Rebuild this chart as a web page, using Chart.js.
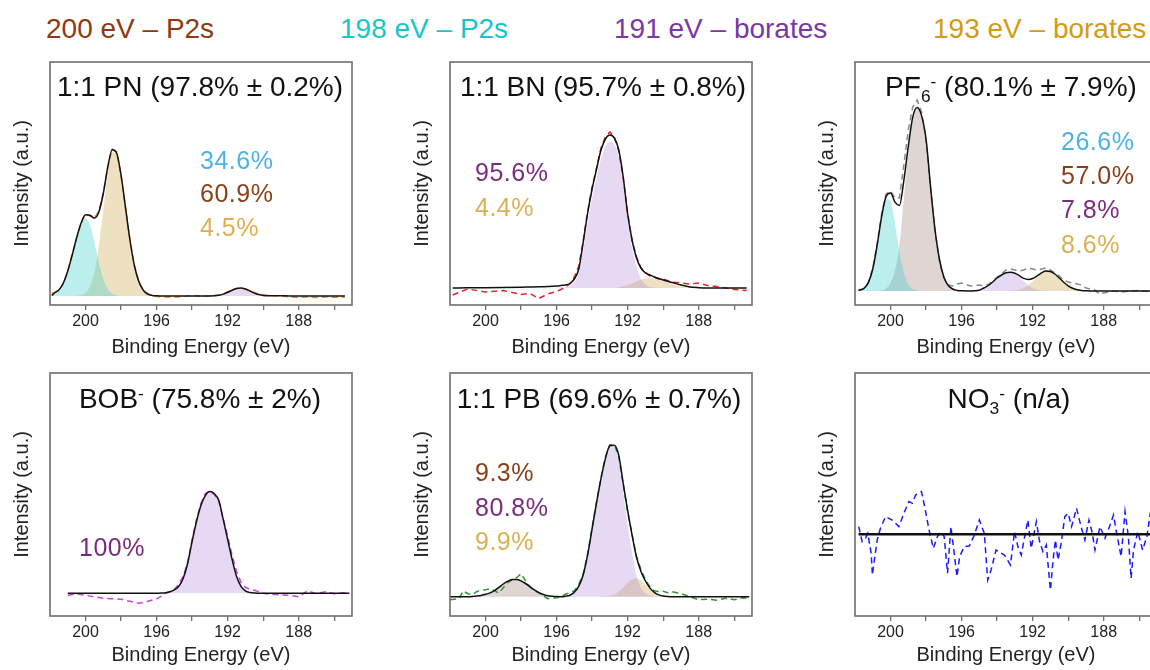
<!DOCTYPE html>
<html>
<head>
<meta charset="utf-8">
<script src="https://cdn.jsdelivr.net/npm/chart.js@4.4.1/dist/chart.umd.min.js"></script>
<style>
  html, body { margin: 0; padding: 0; background: #fff; }
  body { width: 1150px; height: 670px; overflow: hidden; position: relative; font-family: "Liberation Sans", Arial, sans-serif; }
  canvas { position: absolute; }
  .hdr { position: absolute; top: 15px; font-size: 28px; line-height: 28px; white-space: nowrap; z-index: 2; }
  .ttl { position: absolute; width: 400px; text-align: center; font-size: 28px; line-height: 28px; color: #111; white-space: nowrap; z-index: 2; }
  .pct { position: absolute; font-size: 25px; line-height: 25px; letter-spacing: 0.5px; white-space: nowrap; z-index: 2; }
  .sub { font-size: 0.62em; position: relative; top: 0.32em; }
  .sup { font-size: 0.62em; position: relative; top: -0.5em; }
</style>
</head>
<body>

<div class="hdr" style="left:46px;color:#8b3a12">200 eV – P2s</div>
<div class="hdr" style="left:340px;color:#17c6c9">198 eV – P2s</div>
<div class="hdr" style="left:614px;color:#7a37a6">191 eV – borates</div>
<div class="hdr" style="left:933px;color:#d39b14">193 eV – borates</div>

<div class="ttl" style="left:0px;top:73px">1:1 PN (97.8% ± 0.2%)</div>
<div class="ttl" style="left:403px;top:73px">1:1 BN (95.7% ± 0.8%)</div>
<div class="ttl" style="left:811px;top:73px">PF<span class="sub">6</span><span class="sup">-</span> (80.1% ± 7.9%)</div>
<div class="ttl" style="left:0px;top:385px">BOB<span class="sup">-</span> (75.8% ± 2%)</div>
<div class="ttl" style="left:399px;top:385px">1:1 PB (69.6% ± 0.7%)</div>
<div class="ttl" style="left:809px;top:385px">NO<span class="sub">3</span><span class="sup">-</span> (n/a)</div>

<div class="pct" style="left:200px;top:148px;color:#4db3e6">34.6%</div>
<div class="pct" style="left:200px;top:181px;color:#8b3f16">60.9%</div>
<div class="pct" style="left:200px;top:215px;color:#dcb050">4.5%</div>

<div class="pct" style="left:475px;top:160px;color:#7b2b7f">95.6%</div>
<div class="pct" style="left:475px;top:195px;color:#dcb050">4.4%</div>

<div class="pct" style="left:1061px;top:129px;color:#4db3e6">26.6%</div>
<div class="pct" style="left:1061px;top:163px;color:#8b3f16">57.0%</div>
<div class="pct" style="left:1061px;top:197px;color:#7b2b7f">7.8%</div>
<div class="pct" style="left:1061px;top:232px;color:#dcb050">8.6%</div>

<div class="pct" style="left:79px;top:535px;color:#7b2b7f">100%</div>

<div class="pct" style="left:475px;top:460px;color:#8b3f16">9.3%</div>
<div class="pct" style="left:475px;top:495px;color:#7b2b7f">80.8%</div>
<div class="pct" style="left:475px;top:529px;color:#dcb050">9.9%</div>

<script>
// binding energy grids (eV) and intensities (a.u.)

// 1:1 PN
const pnEnergy = [201.9, 201.75, 201.5, 201.25, 201, 200.75, 200.5, 200.25, 200, 199.75,
  199.5, 199.25, 199, 198.75, 198.5, 198.25, 198, 197.75, 197.5, 197.25,
  197, 196.75, 196.5, 196.25, 196, 195.5, 195, 194.5, 194, 193.5,
  193, 192.5, 192.25, 192, 191.75, 191.5, 191.25, 191, 190.75, 190.5,
  190.25, 190, 189.5, 189, 188.5, 188, 187.5, 187, 186.5, 186,
  185.4];
const pnCyan = [0.5, 3, 6, 13, 25, 41, 58, 72, 78, 71,
  54, 34, 17, 7, 2.5, 0.8, 0.2, 0, 0, 0,
  0, 0, 0, 0, 0, 0, 0, 0, 0, 0,
  0, 0, 0, 0, 0, 0, 0, 0, 0, 0,
  0, 0, 0, 0, 0, 0, 0, 0, 0, 0,
  0];
const pnTan = [0, 0, 0, 0, 0, 0, 0.2, 0.9, 3.3, 9.7,
  24, 50, 85.5, 121.7, 143.8, 142.2, 120.8, 88.6, 56, 30.5,
  14.4, 5.8, 2, 0.6, 0.15, 0, 0, 0, 0, 0,
  0, 0, 0, 0, 0, 0, 0, 0, 0, 0,
  0, 0, 0, 0, 0, 0, 0, 0, 0, 0,
  0];
const pnPurple = [0, 0, 0, 0, 0, 0, 0, 0, 0, 0,
  0, 0, 0, 0, 0, 0, 0, 0, 0, 0,
  0, 0, 0, 0, 0, 0, 0, 0, 0, 0,
  0, 0.7, 1.8, 3.6, 5.7, 7.5, 8, 6.9, 4.9, 2.8,
  1.3, 0.5, 0, 0, 0, 0, 0, 0, 0, 0,
  0];
const pnFit = [0.5, 3, 6, 13, 25, 41, 58.2, 72.9, 81.3, 80.7,
  78, 84, 102.5, 128.7, 146.3, 143, 121, 88.6, 56, 30.5,
  14.4, 5.8, 2, 0.6, 0.2, 0, 0, 0, 0, 0,
  0.1, 0.8, 1.9, 3.7, 5.8, 7.6, 8.1, 7, 5, 2.9,
  1.4, 0.6, 0.3, 0.2, 0.1, 0, 0, 0, 0, 0,
  0];
const pnRaw = [2.5, 3.5, 6, 12, 25, 42, 58, 73, 82, 80,
  78, 85, 103, 129, 147, 144, 120, 88, 56, 30,
  14, 6, 2, 0.5, -0.5, -1, -1.2, -0.5, 0.5, 0,
  0.3, 1, 2, 4, 6, 7.5, 8, 7, 5, 3.5,
  2, 1.2, 0.5, 0, -1, -1.5, -1, -1.5, -1, -1.2,
  -1];

// 1:1 BN
const bnEnergy = [201.85, 201, 200, 199, 198, 197.5, 197, 196.5, 196, 195.75,
  195.5, 195.25, 195, 194.75, 194.5, 194.25, 194, 193.75, 193.5, 193.25,
  193, 192.75, 192.5, 192.25, 192, 191.75, 191.5, 191.25, 191, 190.75,
  190.5, 190.25, 190, 189.5, 189, 188.5, 188, 187.5, 187, 186.5,
  186, 185.3];
const bnPurple = [0, 0, 0, 0, 0, 0, 0, 0, 0.2, 0.4,
  0.8, 2, 6, 15, 38, 66, 90, 111, 129, 141,
  146, 144, 131, 104, 68, 40, 21, 9, 3.5, 1.2,
  0.4, 0, 0, 0, 0, 0, 0, 0, 0, 0,
  0, 0];
const bnTan = [0, 0, 0, 0, 0, 0, 0, 0, 0, 0,
  0, 0, 0, 0, 0, 0, 0, 0, 0, 0,
  0, 0, 1.1, 1.9, 3.1, 4.7, 6.4, 8.1, 9.4, 10,
  9.7, 8.7, 7.1, 3.7, 1.35, 0.35, 0.1, 0, 0, 0,
  0, 0];
const bnFit = [0, 0.2, 0.3, 0.5, 0.8, 1, 1.2, 1.5, 2, 2.5,
  3, 4.5, 9, 19, 46, 75, 99, 119, 138, 149,
  153, 150, 138, 111, 74, 48, 30, 20, 15, 13,
  11, 9.5, 8, 5.5, 3, 1, 0.3, 0, 0, 0,
  0, 0];
const bnRaw = [-7, -1, -4, -2.5, -6.5, -5.5, -10.5, -6, -3.5, -1.5,
  1, 4, 11, 22, 47, 77, 101, 120, 140, 151,
  156, 151, 137, 110, 75, 47, 31, 20, 16, 12,
  11, 9, 9, 6, 5, 4, 5, 2.5, 1.5, 0,
  -1.5, -2.5];

// PF6-
const pfEnergy = [201.8, 201.5, 201.25, 201, 200.75, 200.5, 200.25, 200, 199.75, 199.5,
  199.25, 199, 198.75, 198.5, 198.25, 198, 197.75, 197.5, 197.25, 197,
  196.75, 196.5, 196.25, 196, 195.5, 195, 194.75, 194.5, 194.25, 194,
  193.75, 193.5, 193.25, 193, 192.75, 192.5, 192.25, 192, 191.75, 191.5,
  191.25, 191, 190.75, 190.5, 190.25, 190, 189.75, 189.5, 189.25, 189,
  188.5, 188.25, 188, 187.5, 187, 186.5, 186, 185.5, 185];
const pfCyan = [0.5, 2.5, 8.4, 22, 46, 74, 92, 90, 68, 40,
  18.6, 6.7, 1.9, 0.4, 0.1, 0, 0, 0, 0, 0,
  0, 0, 0, 0, 0, 0, 0, 0, 0, 0,
  0, 0, 0, 0, 0, 0, 0, 0, 0, 0,
  0, 0, 0, 0, 0, 0, 0, 0, 0, 0,
  0, 0, 0, 0, 0, 0, 0, 0, 0];
const pfBrown = [0, 0, 0, 0, 0.1, 0.6, 2.6, 8, 20.9, 45.6,
  92, 138, 172, 183, 175, 152, 105, 62, 32, 14,
  5.5, 2, 0.6, 0.2, 0, 0, 0, 0, 0, 0,
  0, 0, 0, 0, 0, 0, 0, 0, 0, 0,
  0, 0, 0, 0, 0, 0, 0, 0, 0, 0,
  0, 0, 0, 0, 0, 0, 0, 0, 0];
const pfPurple = [0, 0, 0, 0, 0, 0, 0, 0, 0, 0,
  0, 0, 0, 0, 0, 0, 0, 0, 0, 0,
  0, 0, 0, 0, 0, 0.8, 3, 5.5, 9, 13,
  16, 18.2, 18.5, 17.2, 13.8, 9.5, 5.7, 2.9, 1.3, 0.5,
  0.2, 0, 0, 0, 0, 0, 0, 0, 0, 0,
  0, 0, 0, 0, 0, 0, 0, 0, 0];
const pfTan = [0, 0, 0, 0, 0, 0, 0, 0, 0, 0,
  0, 0, 0, 0, 0, 0, 0, 0, 0, 0,
  0, 0, 0, 0, 0, 0, 0, 0, 0, 0,
  0, 0, 0.3, 0.6, 1.5, 3.1, 5.8, 9.6, 13.8, 17.6,
  19.8, 19.5, 17, 13, 8.7, 5.2, 2.7, 1.2, 0.5, 0.2,
  0, 0, 0, 0, 0, 0, 0, 0, 0];
const pfFit = [0.5, 2.5, 8.4, 22, 46.1, 74.6, 94.6, 98, 88.9, 85.6,
  110.6, 144.7, 173.9, 183.4, 175.1, 152, 105, 62, 32, 14,
  5.5, 2, 0.6, 0.2, 0.1, 0.8, 3, 5.5, 9, 13,
  16, 18.2, 18.8, 17.8, 15.3, 12.6, 11.5, 12.5, 15.1, 18.1,
  20, 19.5, 17, 13, 8.7, 5.2, 2.7, 1.2, 0.5, 0.2,
  0, 0, 0, 0, 0, 0, 0, 0, 0];
const pfRaw = [1, 2.5, 8, 23, 48, 77, 97, 100, 93, 93,
  126, 161, 184, 191, 179, 150, 103, 60, 30, 13,
  6, 5, 7, 8, 5, 6, 5, 6.5, 10, 14,
  17, 21, 22, 21, 20, 21, 23, 22, 21, 22,
  23, 21, 18, 15, 11, 9, 8, 7, 6, 3,
  1, -3, -2, 0, -1, 0, 0.5, -0.5, 0];

// BOB-
const bobEnergy = [201, 200.5, 200, 199.5, 199, 198.5, 198, 197.5, 197, 196.5,
  196, 195.75, 195.5, 195.25, 195, 194.75, 194.5, 194.25, 194, 193.75,
  193.5, 193.25, 193, 192.75, 192.5, 192.25, 192, 191.75, 191.5, 191.25,
  191, 190.75, 190.5, 190, 189.5, 189, 188.5, 188, 187.5, 187,
  186.5, 186, 185.5, 185.15];
const bobFit = [0, 0, 0, 0, 0, 0, 0, 0, 0, 0,
  0, 0.2, 0.5, 1.5, 3.5, 7, 15, 30, 52, 72,
  88, 98, 101.7, 99.5, 93, 74, 54, 34, 17, 7,
  2.5, 0.8, 0.2, 0, 0, 0, 0, 0, 0, 0,
  0, 0, 0, 0];
const bobRaw = [-2, -0.5, -2, -3.5, -5, -5.5, -6, -8, -10, -8,
  -5.5, -3, 0, 1.5, 4, 9, 17, 31, 54, 74,
  90, 100, 102, 99, 92, 75, 57, 38, 22, 11,
  6, 4, 3, 0, -1, -1.5, -2, -3.5, 2.5, -0.5,
  1.5, -0.5, 0.5, 0];

// 1:1 PB
const pbEnergy = [202, 201.5, 201.25, 201, 200.75, 200.5, 200.25, 200, 199.75, 199.5,
  199.25, 199, 198.75, 198.5, 198.25, 198, 197.75, 197.5, 197.25, 197,
  196.75, 196.5, 196.25, 196, 195.75, 195.5, 195.25, 195, 194.75, 194.5,
  194.25, 194, 193.75, 193.5, 193.25, 193, 192.75, 192.5, 192.25, 192,
  191.75, 191.5, 191.25, 191, 190.75, 190.5, 190.25, 190, 189.75, 189.5,
  189, 188.5, 188, 187.5, 187, 186.5, 186, 185.5, 185.15];
const pbBrown = [0, 0, 0, 0, 0.2, 0.6, 1.3, 2.5, 3.8, 6,
  9.3, 12.7, 15.5, 17.1, 17.2, 15.8, 13.2, 10, 6.8, 4,
  2.2, 1, 0.4, 0.1, 0, 0, 0, 0, 0, 0,
  0, 0, 0, 0, 0, 0, 0, 0, 0, 0,
  0, 0, 0, 0, 0, 0, 0, 0, 0, 0,
  0, 0, 0, 0, 0, 0, 0, 0, 0];
const pbPurple = [0, 0, 0, 0, 0, 0, 0, 0, 0, 0,
  0, 0, 0, 0, 0, 0, 0, 0, 0, 0,
  0, 0, 0, 0, 0, 0.5, 1.5, 4.5, 10.5, 22,
  42, 68, 94, 118, 138, 150, 149, 136, 104, 72,
  44, 21, 9, 3.5, 1.2, 0.4, 0, 0, 0, 0,
  0, 0, 0, 0, 0, 0, 0, 0, 0];
const pbTan = [0, 0, 0, 0, 0, 0, 0, 0, 0, 0,
  0, 0, 0, 0, 0, 0, 0, 0, 0, 0,
  0, 0, 0, 0, 0, 0, 0, 0, 0, 0,
  0, 0, 0, 0.1, 0.3, 1, 2.5, 5.3, 9.4, 14,
  17.5, 18.4, 16.3, 12.2, 7.6, 4, 1.8, 0.7, 0.2, 0,
  0, 0, 0, 0, 0, 0, 0, 0, 0];
const pbFit = [0, 0, 0, 0, 0.2, 0.6, 1.3, 2.5, 3.8, 6,
  9.3, 12.7, 15.5, 17.1, 17.2, 15.8, 13.2, 10, 6.8, 4,
  2.2, 1, 0.4, 0.1, 0, 0.5, 1.5, 4.5, 10.5, 22,
  42, 68, 94, 118.1, 138.3, 151, 151.5, 141.3, 113.4, 86,
  61.5, 39.4, 25.3, 15.7, 8.8, 4.4, 1.8, 0.7, 0.2, 0,
  0, 0, 0, 0, 0, 0, 0, 0, 0];
const pbRaw = [-3, -2, 6, 3, 2, 5, 6.5, 7, 8, 6,
  3.5, 9, 14, 17, 19, 23, 16, 10, 6, 4,
  1, -2, -1.5, -1, 0, 2.5, 4, 6, 12, 23,
  43, 69, 95, 119, 140, 152, 152, 140, 112, 85,
  62, 40, 27, 17, 10, 6, 5, 5.5, 4, 5,
  3, 0, -3, -2.5, -3.5, -1.5, -3, -1, -2];

// NO3- (noise only, flat fit)
const noEnergy = [201.79, 201.6, 201.41, 201.28, 201.09, 201.02, 200.91, 200.75, 200.57, 200.28,
  199.91, 199.53, 199.25, 198.96, 198.77, 198.59, 198.26, 198.08, 197.83, 197.59,
  197.36, 197.13, 196.98, 196.79, 196.6, 196.45, 196.26, 196.11, 195.85, 195.57,
  195.32, 195.0, 194.72, 194.53, 194.34, 194.06, 193.59, 193.25, 193.02, 192.83,
  192.64, 192.45, 192.27, 192.08, 191.79, 191.61, 191.42, 191.23, 191.13, 191.0,
  190.85, 190.72, 190.57, 190.38, 190.19, 190.0, 189.81, 189.53, 189.25, 189.06,
  188.83, 188.64, 188.49, 188.21, 187.93, 187.64, 187.45, 187.27, 187.02, 186.8,
  186.61, 186.46, 186.32, 186.08, 185.81, 185.57, 185.38, 185.2];
const noRaw = [7.7, -7.3, -4, 1, -19, -40.7, -25.7, -5.7, 6, 17.7,
  14.3, 7.7, 21, 32.7, 31, 39.3, 42.7, 27.7, 4.3, -14,
  -2.3, 2.7, -2.3, -39, 7.7, -14, -42.3, -22.3, -12.3, -11.7,
  -2.3, 14.3, 1, -45.7, -35.7, -15.7, -20.7, -30.7, 2.7, -12.3,
  -20.7, -2.3, 14.3, -14, 12.7, -7.3, -17.3, -10.7, -30.7, -55.7,
  -25.7, -5.7, -25.7, -7.3, 17.7, 21, 7.7, 26, 6, -5.7,
  14.3, 1, -15.7, 7.7, -4, 9.3, 19.3, 1, -22.3, 22.7,
  -2.3, -44, -15.7, 2.7, -15.7, -2.3, 21, 19];
const noFitEnergy = [201.8, 185];
const noFit = [0, 0];

const tickValues = [200, 198, 196, 194, 192, 190, 188, 186];

const CYAN = 'rgba(60, 210, 205, 0.35)';
const TAN = 'rgba(205, 170, 80, 0.35)';
const PURPLE = 'rgba(170, 130, 215, 0.3)';
const BROWN = 'rgba(150, 115, 110, 0.3)';

function pts(xs, ys) {
  return xs.map((x, i) => ({ x: x, y: ys[i] }));
}

function fitLine(xs, ys, width) {
  return { data: pts(xs, ys), borderColor: '#111', borderWidth: width || 1.5, fill: false, cubicInterpolationMode: 'monotone' };
}

function rawLine(xs, ys, color) {
  return { data: pts(xs, ys), borderColor: color, borderWidth: 1.5, borderDash: [6, 4], fill: false, tension: 0 };
}

function peak(xs, ys, color) {
  return { data: pts(xs, ys), borderWidth: 0, borderColor: 'rgba(0,0,0,0)', backgroundColor: color, fill: 'origin', cubicInterpolationMode: 'monotone' };
}

const frame = {
  id: 'frame',
  afterDraw(chart) {
    const { ctx, chartArea: a } = chart;
    ctx.save();
    ctx.strokeStyle = '#6e6e6e';
    ctx.lineWidth = 1.6;
    ctx.strokeRect(a.left, a.top, a.right - a.left, a.bottom - a.top);
    ctx.restore();
  }
};

const FRAME_W = 302;
const FRAME_H = 243;

function makePanel(p) {
  const canvas = document.createElement('canvas');
  canvas.width = FRAME_W + 58;
  canvas.height = FRAME_H + 8 + p.axisH;
  canvas.style.left = (p.left - 50) + 'px';
  canvas.style.top = (p.top - 8) + 'px';
  document.body.appendChild(canvas);

  new Chart(canvas, {
    type: 'line',
    data: { datasets: p.datasets },
    options: {
      responsive: false,
      animation: false,
      events: [],
      layout: { padding: { top: 8, right: 8, left: 0, bottom: 0 } },
      elements: { point: { radius: 0 } },
      plugins: { legend: { display: false }, tooltip: { enabled: false } },
      scales: {
        x: {
          type: 'linear',
          reverse: true,
          min: 185,
          max: 202,
          afterBuildTicks: axis => { axis.ticks = tickValues.map(v => ({ value: v })); },
          afterFit: axis => { axis.height = p.axisH; },
          border: { display: false },
          grid: { drawOnChartArea: false, drawTicks: true, tickLength: 5, color: '#6e6e6e', lineWidth: 1.3 },
          ticks: {
            autoSkip: false,
            maxRotation: 0,
            padding: 2,
            color: '#222',
            font: { family: 'Liberation Sans, Arial, sans-serif', size: 16 },
            callback: v => (v % 4 === 0 ? String(v) : '')
          },
          title: {
            display: true,
            text: 'Binding Energy (eV)',
            color: '#222',
            font: { family: 'Liberation Sans, Arial, sans-serif', size: 20 },
            padding: { top: 0, bottom: 8 }
          }
        },
        y: {
          min: p.yMin,
          max: p.yMax,
          afterFit: axis => { axis.width = 50; },
          border: { display: false },
          grid: { display: false },
          ticks: { display: false },
          title: {
            display: true,
            text: 'Intensity (a.u.)',
            color: '#222',
            font: { family: 'Liberation Sans, Arial, sans-serif', size: 20 },
            padding: { top: 10, bottom: 0 }
          }
        }
      }
    },
    plugins: [frame]
  });
}

const panels = [
  { left: 50, top: 62, axisH: 62, yMin: -9, yMax: 234, datasets: [
    fitLine(pnEnergy, pnFit),
    rawLine(pnEnergy, pnRaw, '#f0801e'),
    peak(pnEnergy, pnCyan, CYAN),
    peak(pnEnergy, pnTan, TAN),
    peak(pnEnergy, pnPurple, PURPLE)
  ] },
  { left: 450, top: 62, axisH: 62, yMin: -17, yMax: 226, datasets: [
    fitLine(bnEnergy, bnFit),
    rawLine(bnEnergy, bnRaw, '#e8202a'),
    peak(bnEnergy, bnPurple, PURPLE),
    peak(bnEnergy, bnTan, TAN)
  ] },
  { left: 855, top: 62, axisH: 62, yMin: -14, yMax: 229, datasets: [
    fitLine(pfEnergy, pfFit),
    rawLine(pfEnergy, pfRaw, '#8a8a8a'),
    peak(pfEnergy, pfCyan, CYAN),
    peak(pfEnergy, pfBrown, BROWN),
    peak(pfEnergy, pfPurple, PURPLE),
    peak(pfEnergy, pfTan, TAN)
  ] },
  { left: 50, top: 373, axisH: 59, yMin: -22.7, yMax: 220.3, datasets: [
    fitLine(bobEnergy, bobFit),
    rawLine(bobEnergy, bobRaw, '#d040e0'),
    peak(bobEnergy, bobFit, PURPLE)
  ] },
  { left: 450, top: 373, axisH: 59, yMin: -19.3, yMax: 223.7, datasets: [
    fitLine(pbEnergy, pbFit),
    rawLine(pbEnergy, pbRaw, '#2a9a2a'),
    peak(pbEnergy, pbBrown, BROWN),
    peak(pbEnergy, pbPurple, PURPLE),
    peak(pbEnergy, pbTan, TAN)
  ] },
  { left: 855, top: 373, axisH: 59, yMin: -81.7, yMax: 161.3, datasets: [
    fitLine(noFitEnergy, noFit, 2.5),
    rawLine(noEnergy, noRaw, '#1a1aff')
  ] }
];

panels.forEach(makePanel);
</script>
</body>
</html>
